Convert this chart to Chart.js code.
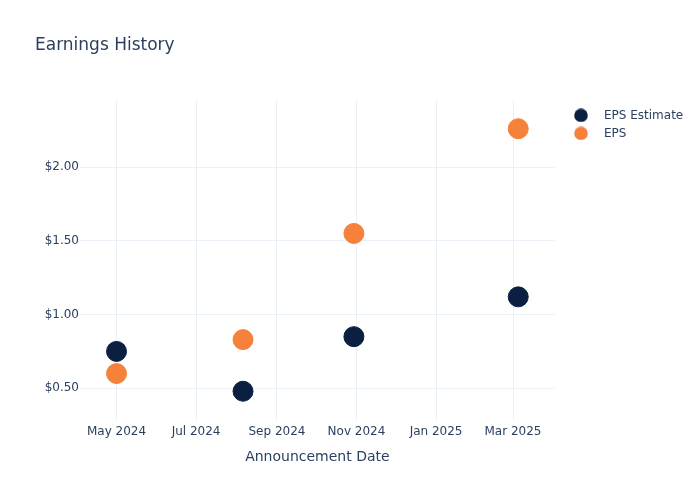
<!DOCTYPE html>
<html lang="en">
<head>
<meta charset="utf-8">
<script src="https://cdn.jsdelivr.net/npm/chart.js@4.4.1/dist/chart.umd.min.js"></script>
<style>
  body { margin: 0; background: #fff; }
  #wrap { width: 700px; height: 500px; }
</style>
</head>
<body>
<div id="wrap"><canvas id="chart" width="700" height="500"></canvas></div>

<script>
"use strict";

// announcement dates and values
var dates = ['2024-05-01', '2024-08-06', '2024-10-30', '2025-03-05'];
var epsEstimate = [0.75, 0.48, 0.85, 1.12];
var epsActual = [0.60, 0.83, 1.55, 2.26];

// axis ticks
var xTickDates = ['2024-05-01', '2024-07-01', '2024-09-01', '2024-11-01', '2025-01-01', '2025-03-01'];
var xTickLabels = ['May 2024', 'Jul 2024', 'Sep 2024', 'Nov 2024', 'Jan 2025', 'Mar 2025'];
var yTickValues = [0.5, 1.0, 1.5, 2.0];

var textColor = '#2a3f5f';
var gridColor = '#ebf0f8';
var fontFamily = '"DejaVu Sans", Verdana, sans-serif';

function toTime(d) { return Date.parse(d + 'T00:00:00Z'); }

function points(values) {
  return dates.map(function (d, i) { return { x: toTime(d), y: values[i] }; });
}

// small circle drawn on a canvas, used as the legend marker
function dot(color) {
  var c = document.createElement('canvas');
  c.width = 14; c.height = 14;
  var g = c.getContext('2d');
  g.fillStyle = color;
  g.beginPath();
  g.arc(7, 7, 6.8, 0, Math.PI * 2);
  g.fill();
  return c;
}

var xTickTimes = xTickDates.map(toTime);

// nudge the legend into place after layout
var legendShift = {
  id: 'legendShift',
  afterLayout: function (chart) {
    var lg = chart.legend;
    var w = lg.right - lg.left;
    lg.left = 558;
    lg.right = lg.left + w;
    lg.top += 3;
    lg.bottom += 3;
  }
};

new Chart(document.getElementById('chart'), {
  type: 'scatter',
  data: {
    datasets: [{
      label: 'EPS Estimate',
      data: points(epsEstimate),
      backgroundColor: '#0b1f41',
      borderColor: '#0b1f41',
      pointRadius: 10,
      pointHoverRadius: 10
    }, {
      label: 'EPS',
      data: points(epsActual),
      backgroundColor: '#f5813a',
      borderColor: '#f5813a',
      pointRadius: 10,
      pointHoverRadius: 10
    }]
  },
  plugins: [legendShift],
  options: {
    responsive: false,
    animation: false,
    layout: { padding: { left: 35, right: 10, top: 0, bottom: 0 } },
    plugins: {
      tooltip: { enabled: false },
      title: {
        display: true,
        text: 'Earnings History',
        align: 'start',
        color: textColor,
        font: { family: fontFamily, size: 17, weight: 'normal' },
        padding: { top: 35, bottom: 45 }
      },
      legend: {
        position: 'right',
        align: 'start',
        fullSize: false,
        labels: {
          usePointStyle: true,
          pointStyleWidth: 34,
          boxHeight: 9,
          padding: 6,
          color: textColor,
          font: { family: fontFamily, size: 12 },
          generateLabels: function (chart) {
            var items = Chart.defaults.plugins.legend.labels.generateLabels(chart);
            items.forEach(function (it) {
              it.pointStyle = dot(chart.data.datasets[it.datasetIndex].backgroundColor);
            });
            return items;
          }
        }
      }
    },
    scales: {
      x: {
        type: 'linear',
        min: toTime('2024-04-03'),
        max: toTime('2025-04-02'),
        afterBuildTicks: function (scale) {
          scale.ticks = xTickTimes.map(function (t) { return { value: t }; });
        },
        afterFit: function (scale) { scale.height = 80; },
        grid: { color: gridColor, drawTicks: false },
        border: { display: false },
        ticks: {
          padding: 5,
          maxRotation: 0,
          color: textColor,
          font: { family: fontFamily, size: 12 },
          callback: function (v) {
            var i = xTickTimes.indexOf(v);
            return i >= 0 ? xTickLabels[i] : '';
          }
        },
        title: {
          display: true,
          text: 'Announcement Date',
          color: textColor,
          font: { family: fontFamily, size: 14 },
          padding: { top: 0, bottom: 34 }
        }
      },
      y: {
        type: 'linear',
        min: 0.285,
        max: 2.452,
        afterBuildTicks: function (scale) {
          scale.ticks = yTickValues.map(function (v) { return { value: v }; });
        },
        afterFit: function (scale) { scale.width = 45; },
        grid: { color: gridColor, drawTicks: false },
        border: { display: false },
        ticks: {
          padding: 1,
          color: textColor,
          font: { family: fontFamily, size: 12 },
          callback: function (v) { return '$' + v.toFixed(2); }
        }
      }
    }
  }
});
</script>
</body>
</html>
